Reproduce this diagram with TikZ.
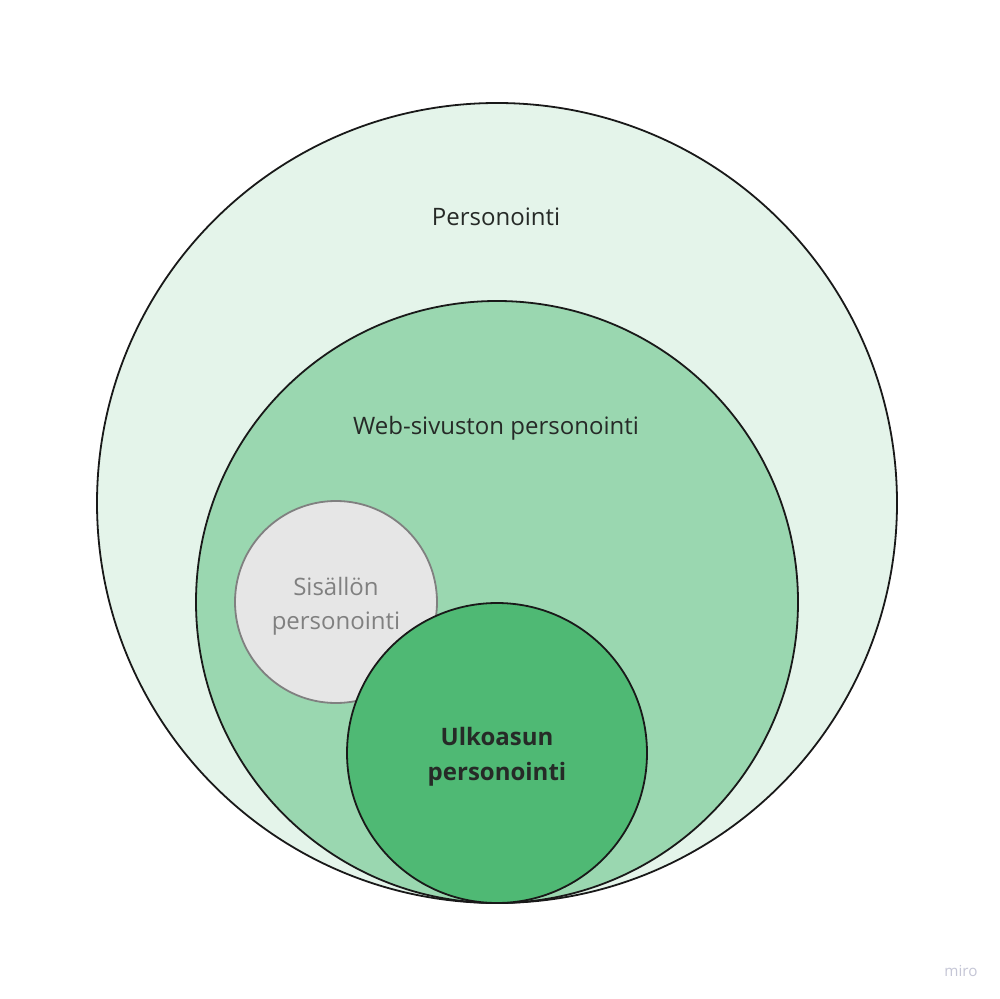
\documentclass[tikz,border=0pt]{standalone}
\usepackage{fontspec}
\setmainfont{Open Sans}
\definecolor{outerfill}{HTML}{E4F4EA}
\definecolor{midfill}{HTML}{9AD7B0}
\definecolor{darkfill}{HTML}{4FB974}
\definecolor{greyfill}{HTML}{E6E6E6}
\definecolor{greyline}{HTML}{808080}
\definecolor{txt}{HTML}{262A27}
\definecolor{mirocol}{HTML}{C5C6D6}
\begin{document}
\begin{tikzpicture}[x=0.5pt,y=-0.5pt,
  ring/.style={draw=black!90, line width=0.9pt},
  lbl/.style={text=txt, font=\fontsize{12}{14}\selectfont, align=center}]
\useasboundingbox (0,0) rectangle (1000,999);
\fill[white] (0,0) rectangle (1000,999);
\filldraw[ring, fill=outerfill] (497,503) circle[radius=400];
\filldraw[ring, fill=midfill] (497,602) circle[radius=301];
\filldraw[draw=greyline, line width=0.9pt, fill=greyfill] (336,602) circle[radius=101];
\filldraw[ring, fill=darkfill] (497,753) circle[radius=150];
\node[lbl] (p) at (496,217) {Personointi};
\node[lbl] (w) at (496,428) {Web-sivuston personointi};
\node[lbl, text=greyline, font=\fontsize{12}{17}\selectfont] (s) at (336,606) {Sisällön\\personointi};
\node[lbl, font=\fontsize{12}{17.5}\selectfont\bfseries] (u) at (497,757) {Ulkoasun\\personointi};
\node[text=mirocol, font=\fontsize{7.6}{9}\selectfont] (m) at (961,971) {miro};
\end{tikzpicture}
\end{document}
